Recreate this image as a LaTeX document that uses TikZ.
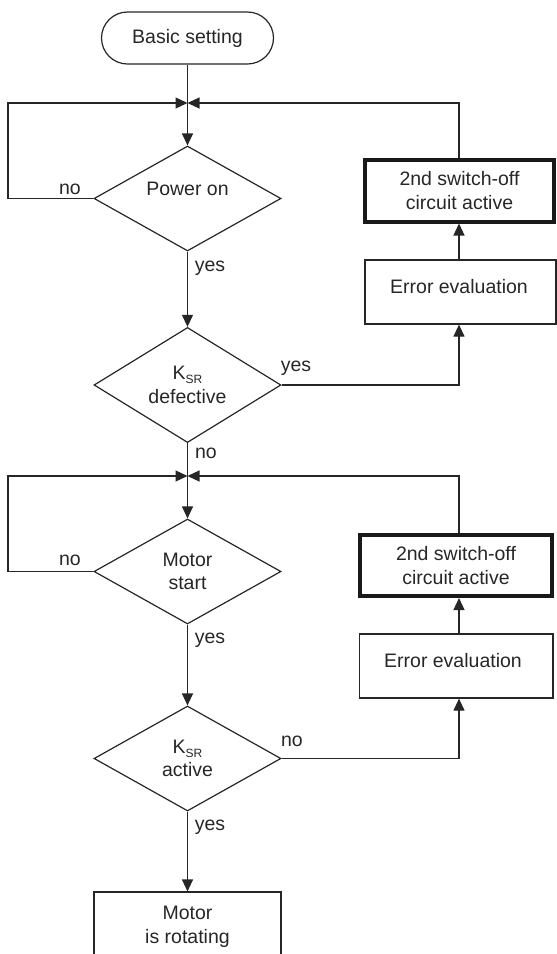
\documentclass[tikz,border=0pt]{standalone}
\usepackage{fontspec}
\setmainfont{Liberation Sans}
\usetikzlibrary{arrows.meta,shapes.geometric}
\newcommand{\ksr}{K\raisebox{-4pt}{\fontsize{12}{12}\selectfont SR}}
\begin{document}
\begin{tikzpicture}[x=1pt,y=-1pt,
  every node/.style={font=\fontsize{19.5}{23.5}\selectfont, text=black!85},
  line/.style={draw=black!85, line width=1.2pt},
  arr/.style={line, -{Triangle[length=12pt,width=11pt]}},
  dia/.style={line, diamond, minimum width=187pt, minimum height=105pt, inner sep=0pt, align=center},
  boxn/.style={line, rectangle, inner sep=0pt, align=center},
  thickbox/.style={draw=black!90, line width=4pt, rectangle, inner sep=0pt, align=center},
  lab/.style={inner sep=0pt}]
\useasboundingbox (0,0) rectangle (557,954);

% start
\node[line, rectangle, rounded corners=26pt, minimum width=172pt, minimum height=52pt] (start) at (187.5,38) {Basic setting};

\coordinate (j1) at (187.5,103);
\coordinate (j2) at (187.5,476);
\coordinate (xr) at (459,0);
\coordinate (xl) at (8,0);

% diamonds
\node[dia] (d1) at (187.5,198.5) {};
\node[lab] (t1) at (187.5,188.5) {Power on};
\node[dia] (d2) at (187.5,385) {\ksr\\defective};
\node[dia] (d3) at (187.5,571.5) {Motor\\start};
\node[dia] (d4) at (187.5,758.5) {\ksr\\active};

% final
\node[boxn, minimum width=187pt, minimum height=70pt] (fin) at (187.5,927) {Motor\\is rotating};

% right boxes top
\node[thickbox, minimum width=189pt, minimum height=62pt] (e1) at (459.5,190.5) {2nd switch-off\\circuit active};
\node[boxn, minimum width=191pt, minimum height=64pt] (ev1) at (460.5,292) {};
\node[lab] (tev1) at (459,287) {Error evaluation};

% right boxes bottom
\node[thickbox, minimum width=192pt, minimum height=61pt] (e2) at (456,565.5) {2nd switch-off\\circuit active};
\node[boxn, minimum width=193.5pt, minimum height=64pt] (ev2) at (456.25,666) {};
\node[lab] (tev2) at (453,661) {Error evaluation};

% top loop
\draw[line] (start.south) -- (j1);
\draw[arr] (j1) -- (d1.north);
\draw[arr] (d1.west) -- (d1.west -| xl) -- (j1 -| xl) -- (j1);
\draw[arr] (e1.north -| xr) -- (j1 -| xr) -- (j1);
\draw[arr] (d1.south) -- (d2.north);
\draw[arr] (d2.east) -- (d2.east -| xr) -- (ev1.south -| xr);
\draw[arr] (ev1.north -| xr) -- (e1.south -| xr);

% bottom loop
\draw[line] (d2.south) -- (j2);
\draw[arr] (j2) -- (d3.north);
\draw[arr] (d3.west) -- (d3.west -| xl) -- (j2 -| xl) -- (j2);
\draw[arr] (e2.north -| xr) -- (j2 -| xr) -- (j2);
\draw[arr] (d3.south) -- (d4.north);
\draw[arr] (d4.east) -- (d4.east -| xr) -- (ev2.south -| xr);
\draw[arr] (ev2.north -| xr) -- (e2.south -| xr);
\draw[arr] (d4.south) -- (fin.north);

% labels
\node[lab] (n1) at (70,189) {no};
\node[lab] (y1) at (210,268) {yes};
\node[lab] (y2) at (296,368) {yes};
\node[lab] (n2) at (206,453) {no};
\node[lab] (n3) at (70,560) {no};
\node[lab] (y3) at (210,640) {yes};
\node[lab] (n4) at (292,741) {no};
\node[lab] (y4) at (210,827) {yes};
\end{tikzpicture}
\end{document}
